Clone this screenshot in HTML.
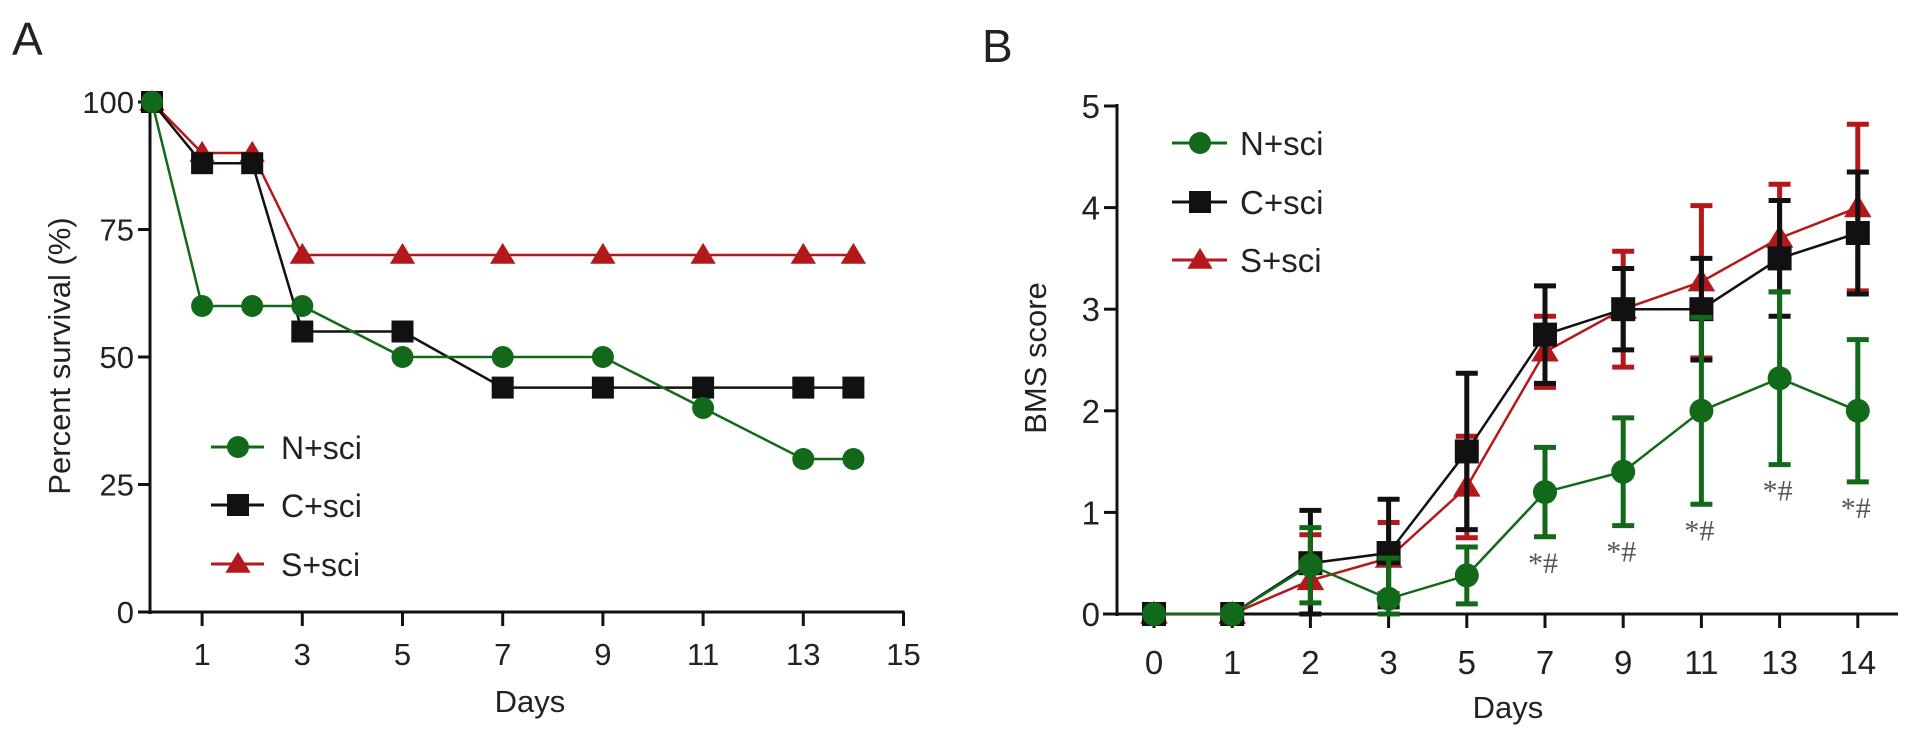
<!DOCTYPE html>
<html><head><meta charset="utf-8"><style>
html,body{margin:0;padding:0;background:#fff;}
svg{display:block;font-family:"Liberation Sans",Arial,sans-serif;}
.nar{font-family:"Liberation Sans Narrow","Liberation Sans",sans-serif;}
</style></head><body>
<svg id="chart" width="1913" height="732" viewBox="0 0 1913 732"></svg>
<script>
// Panel A data
const daysA = [0,1,2,3,5,7,9,11,13,14];
const survN = [100,60,60,60,50,50,50,40,30,30];
const survC = [100,88,88,55,55,44,44,44,44,44];
const survS = [100,90,90,70,70,70,70,70,70,70];
const xTicksA = [1,3,5,7,9,11,13,15];
const yTicksA = [0,25,50,75,100];
// Panel B data
const catsB = ["0","1","2","3","5","7","9","11","13","14"];
const bmsN = [0,0,0.48,0.15,0.38,1.2,1.4,2.0,2.32,2.0];
const sdN  = [0,0,0.37,0.4,0.28,0.44,0.53,0.92,0.85,0.7];
const bmsC = [0,0,0.5,0.6,1.6,2.75,3.0,3.0,3.5,3.75];
const sdC  = [0,0,0.52,0.53,0.77,0.48,0.4,0.5,0.57,0.6];
const bmsS = [0,0,0.33,0.55,1.25,2.58,3.0,3.27,3.7,4.0];
const sdS  = [0,0,0.45,0.35,0.5,0.35,0.57,0.75,0.53,0.82];
const sigB = ["","","","","","*#","*#","*#","*#","*#"];
const yTicksB = [0,1,2,3,4,5];

const G="#13691a", R="#b3191b", K="#111";
const svg=document.getElementById('chart');
const NS="http://www.w3.org/2000/svg";
function mk(tag,attrs,parent){const e=document.createElementNS(NS,tag);for(const k in attrs)e.setAttribute(k,attrs[k]);(parent||svg).appendChild(e);return e;}
function txt(s,x,y,size,anchor,parent,extra){const t=mk('text',Object.assign({x:x,y:y,'font-size':size,'text-anchor':anchor||'middle',fill:'#222'},extra||{}),parent);t.textContent=s;return t;}
function marker(type,x,y,col,g,sz){
  let m;
  if(type==='c') m=mk('circle',{cx:x,cy:y,r:sz,fill:col},g);
  else if(type==='s') m=mk('rect',{x:x-sz,y:y-sz,width:2*sz,height:2*sz,fill:col},g);
  else m=mk('polygon',{points:`${x},${y-sz*1.1} ${x-sz*1.15},${y+sz*0.8} ${x+sz*1.15},${y+sz*0.8}`,fill:col},g);
  return m;
}

// ---- Panel A ----
const xA=d=>152+50.1*d, yA=v=>612-5.1*v;
const gA=mk('g',{});


let lab=txt('A',12,55,46,'start',gA);


let ax=mk('line',{x1:150,y1:100,x2:150,y2:614,stroke:K,'stroke-width':3},gA);


ax=mk('line',{x1:138,y1:612,x2:xA(15)+1,y2:612,stroke:K,'stroke-width':3},gA);


yTicksA.forEach(v=>{mk('line',{x1:138,y1:yA(v),x2:150,y2:yA(v),stroke:K,'stroke-width':3},gA);
  const t=txt(String(v),134,yA(v)+11,31,'end',gA);
  
  });
xTicksA.forEach(d=>{mk('line',{x1:xA(d),y1:612,x2:xA(d),y2:626,stroke:K,'stroke-width':3},gA);
  const t=txt(String(d),xA(d),665,31,'middle',gA);
  
  });
let tl=txt('Days',530,712,31,'middle',gA);


tl=txt('Percent survival (%)',0,0,31,'middle',gA,{transform:'translate(70,356) rotate(-90)'});


[[survS,R,'t','series-s-sci-a'],[survC,K,'s','series-c-sci-a'],[survN,G,'c','series-n-sci-a']].forEach(([vals,col,type,name])=>{
  const g=mk('g',{},gA);
  
  
  mk('polyline',{points:daysA.map((d,i)=>xA(d)+','+yA(vals[i])).join(' '),fill:'none',stroke:col,'stroke-width':2.5},g);
  daysA.forEach((d,i)=>{const m=marker(type,xA(d),yA(vals[i]),col,g,11);
    
    });
});
[['N+sci',G,'c',447],['C+sci',K,'s',505],['S+sci',R,'t',564]].forEach(([s,col,type,y])=>{
  const g=mk('g',{},gA);
  
  
  mk('line',{x1:211,y1:y,x2:264,y2:y,stroke:col,'stroke-width':3},g);
  marker(type,238,y,col,g,11);
  txt(s,281,y+12,32,'start',g);
});

// ---- Panel B ----
const xB=i=>1154+78.2*i, yB=v=>614-101.6*v;
const gB=mk('g',{});


lab=txt('B',982,62,46,'start',gB);


ax=mk('line',{x1:1117,y1:104,x2:1117,y2:616,stroke:K,'stroke-width':3},gB);


ax=mk('line',{x1:1103,y1:614,x2:1898,y2:614,stroke:K,'stroke-width':3},gB);


yTicksB.forEach(v=>{mk('line',{x1:1104,y1:yB(v),x2:1117,y2:yB(v),stroke:K,'stroke-width':3},gB);
  const t=txt(String(v),1100,yB(v)+12,33,'end',gB,{class:'nar'});
  
  });
catsB.forEach((c,i)=>{mk('line',{x1:xB(i),y1:614,x2:xB(i),y2:628,stroke:K,'stroke-width':3},gB);
  const t=txt(c,xB(i),674,33,'middle',gB,{class:'nar'});
  
  });
tl=txt('Days',1508,718,31,'middle',gB,{class:'nar'});


tl=txt('BMS score',0,0,31,'middle',gB,{transform:'translate(1046,358) rotate(-90)',class:'nar'});


[[bmsS,sdS,R,'t','series-s-sci-b'],[bmsC,sdC,K,'s','series-c-sci-b'],[bmsN,sdN,G,'c','series-n-sci-b']].forEach(([vals,sds,col,type,name])=>{
  const g=mk('g',{},gB);
  
  
  vals.forEach((v,i)=>{ if(sds[i]>0){
    const x=xB(i),y1=yB(v+sds[i]),y2=yB(Math.max(0,v-sds[i]));
    const e=mk('path',{d:`M${x},${y1}V${y2}M${x-11},${y1}H${x+11}M${x-11},${y2}H${x+11}`,stroke:col,'stroke-width':5,fill:'none'},g);
    
    }});
  mk('polyline',{points:vals.map((v,i)=>xB(i)+','+yB(v)).join(' '),fill:'none',stroke:col,'stroke-width':2.5},g);
  vals.forEach((v,i)=>{const m=marker(type,xB(i),yB(v),col,g,12);
    
    });
});
sigB.forEach((s,i)=>{ if(s){
  const t=txt(s,xB(i)-2,yB(bmsN[i]-sdN[i])+36,30,'middle',gB,{fill:'#555','font-family':'Liberation Serif,serif'});
  
  }});
[['N+sci',G,'c',143],['C+sci',K,'s',202],['S+sci',R,'t',260]].forEach(([s,col,type,y])=>{
  const g=mk('g',{},gB);
  
  
  mk('line',{x1:1172,y1:y,x2:1227,y2:y,stroke:col,'stroke-width':3},g);
  marker(type,1200,y,col,g,11);
  txt(s,1240,y+12,33,'start',g,{class:'nar'});
});
</script>
</body></html>
